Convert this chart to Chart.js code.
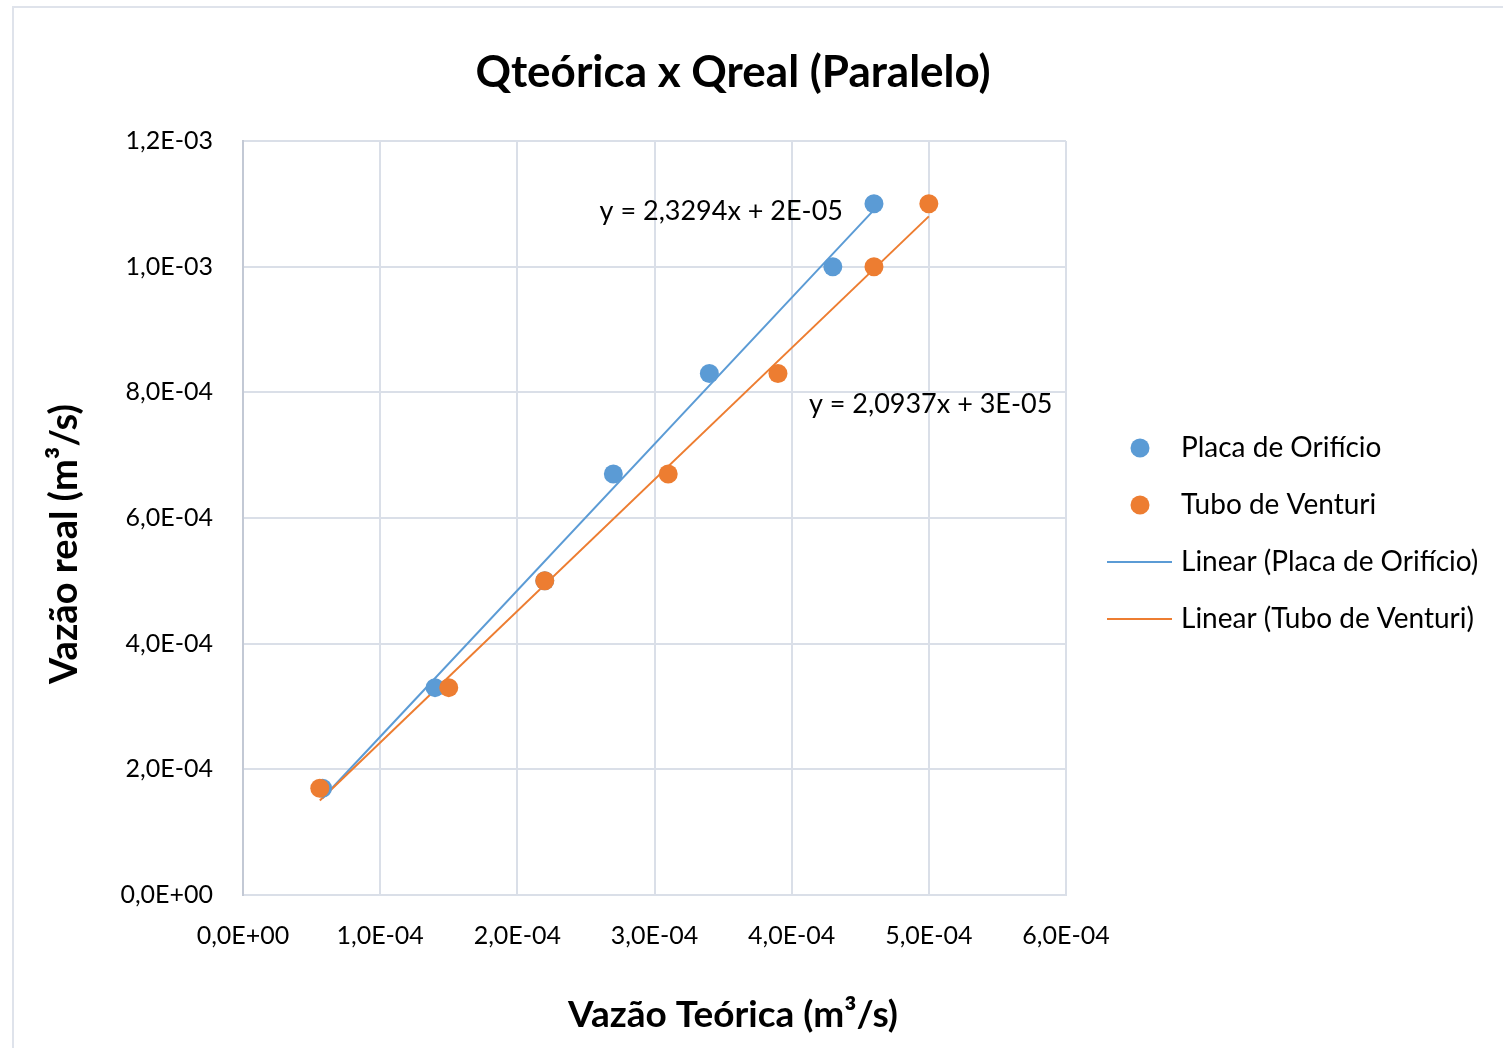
<!DOCTYPE html>
<html>
<head>
<meta charset="utf-8">
<title>Qteórica x Qreal (Paralelo)</title>
<script src="https://cdn.jsdelivr.net/npm/chart.js@4.4.1/dist/chart.umd.min.js"></script>
<style>
  html, body { margin: 0; padding: 0; background: #fff; overflow: hidden; }
  #wrap { position: relative; width: 1503px; height: 1048px; overflow: hidden; }
  #chart { position: absolute; left: -20px; top: 0; }
  #frame { position: absolute; left: 12px; top: 6px; width: 1520px; height: 1080px;
           border: 2px solid #dfe3eb; pointer-events: none; }
</style>
</head>
<body>
<div id="wrap">
  <canvas id="chart" width="1523" height="1048"></canvas>
  <div id="frame"></div>
</div>
<script>
// values (m³/s)
const placaX = [5.8e-5, 1.4e-4, 2.2e-4, 2.7e-4, 3.4e-4, 4.3e-4, 4.6e-4];
const placaY = [1.7e-4, 3.3e-4, 5.0e-4, 6.7e-4, 8.3e-4, 1.0e-3, 1.1e-3];
const venturiX = [5.6e-5, 1.5e-4, 2.2e-4, 3.1e-4, 3.9e-4, 4.6e-4, 5.0e-4];
const venturiY = [1.7e-4, 3.3e-4, 5.0e-4, 6.7e-4, 8.3e-4, 1.0e-3, 1.1e-3];
const seriesNames = ['Placa de Orifício', 'Tubo de Venturi'];
const equations = ['y = 2,3294x + 2E-05', 'y = 2,0937x + 3E-05'];

const BLUE = '#5b9bd5';
const ORANGE = '#ed7d31';
const GRID = '#dadfe8';
const FONT = 'Lato, "Open Sans", sans-serif';

function toPoints(xs, ys) {
  return xs.map((x, i) => ({ x, y: ys[i] }));
}

// least squares line over the x range of the series, like Excel's linear trendline
function linearFit(xs, ys) {
  const n = xs.length;
  const mx = xs.reduce((a, b) => a + b, 0) / n;
  const my = ys.reduce((a, b) => a + b, 0) / n;
  let sxy = 0, sxx = 0;
  xs.forEach((x, i) => {
    sxy += (x - mx) * (ys[i] - my);
    sxx += (x - mx) * (x - mx);
  });
  const m = sxy / sxx;
  const b = my - m * mx;
  const x0 = Math.min(...xs), x1 = Math.max(...xs);
  return [{ x: x0, y: m * x0 + b }, { x: x1, y: m * x1 + b }];
}

// 1.2e-3 -> "1,2E-03"
function fmtE(v) {
  const [mant, exp] = Number(v).toExponential(1).split('e');
  const e = parseInt(exp, 10);
  const sign = e < 0 ? '-' : '+';
  return mant.replace('.', ',') + 'E' + sign + String(Math.abs(e)).padStart(2, '0');
}

function legendIcon(kind, color) {
  const c = document.createElement('canvas');
  c.width = 84;
  c.height = 22;
  const g = c.getContext('2d');
  g.fillStyle = color;
  g.strokeStyle = color;
  if (kind === 'dot') {
    g.beginPath();
    g.arc(51, 11, 9.5, 0, Math.PI * 2);
    g.fill();
  } else {
    g.lineWidth = 2;
    g.beginPath();
    g.moveTo(18, 11);
    g.lineTo(83, 11);
    g.stroke();
  }
  return c;
}

const icons = [
  legendIcon('dot', BLUE),
  legendIcon('dot', ORANGE),
  legendIcon('line', BLUE),
  legendIcon('line', ORANGE)
];

// trendline equations and the rotated y title
const extraText = {
  id: 'extraText',
  afterDatasetsDraw(chart, args, opts) {
    const { ctx, chartArea, scales: { x, y } } = chart;
    ctx.save();
    ctx.fillStyle = '#000';
    ctx.textBaseline = 'middle';
    ctx.font = '27px ' + FONT;
    opts.labels.forEach(l => {
      ctx.textAlign = l.align;
      ctx.fillText(l.text, x.getPixelForValue(l.x), y.getPixelForValue(l.y));
    });
    ctx.translate(chartArea.left + opts.yTitle.dx, opts.yTitle.y);
    ctx.rotate(-Math.PI / 2);
    ctx.textAlign = 'center';
    ctx.font = 'bold 38px ' + FONT;
    ctx.fillText(opts.yTitle.text, 0, 0);
    ctx.restore();
  }
};

new Chart(document.getElementById('chart'), {
  type: 'scatter',
  data: {
    datasets: [
      {
        label: seriesNames[0],
        data: toPoints(placaX, placaY),
        backgroundColor: BLUE,
        borderColor: BLUE,
        pointRadius: 9.5,
        pointBorderWidth: 0,
        order: 2
      },
      {
        label: seriesNames[1],
        data: toPoints(venturiX, venturiY),
        backgroundColor: ORANGE,
        borderColor: ORANGE,
        pointRadius: 9.5,
        pointBorderWidth: 0,
        order: 1
      },
      {
        type: 'line',
        label: 'Linear (' + seriesNames[0] + ')',
        data: linearFit(placaX, placaY),
        borderColor: BLUE,
        borderWidth: 2,
        pointRadius: 0,
        order: 4
      },
      {
        type: 'line',
        label: 'Linear (' + seriesNames[1] + ')',
        data: linearFit(venturiX, venturiY),
        borderColor: ORANGE,
        borderWidth: 2,
        pointRadius: 0,
        order: 3
      }
    ]
  },
  options: {
    responsive: false,
    animation: false,
    events: [],
    layout: { padding: { left: 0, right: 17, top: 20, bottom: 1 } },
    scales: {
      x: {
        type: 'linear',
        min: 0,
        max: 6e-4,
        afterFit: s => { s.height = 80; },
        ticks: {
          stepSize: 1e-4,
          padding: 26,
          color: '#000',
          font: { family: FONT, size: 25 },
          callback: v => fmtE(v)
        },
        grid: { color: GRID, lineWidth: 2, drawTicks: false },
        border: { color: GRID, width: 2 }
      },
      y: {
        type: 'linear',
        min: 0,
        max: 1.2e-3,
        afterFit: s => { s.width = 263; },
        ticks: {
          stepSize: 2e-4,
          padding: 30,
          color: '#000',
          font: { family: FONT, size: 25 },
          callback: v => fmtE(v)
        },
        grid: { color: GRID, lineWidth: 2, drawTicks: false },
        border: { color: '#c3c9d5', width: 2 }
      }
    },
    plugins: {
      title: {
        display: true,
        text: 'Qteórica x Qreal (Paralelo)',
        color: '#000',
        font: { family: FONT, size: 44, weight: 'bold' },
        padding: { top: 26.6, bottom: 41.6 }
      },
      subtitle: {
        display: true,
        position: 'bottom',
        text: 'Vazão Teórica (m³/s)',
        color: '#000',
        font: { family: FONT, size: 37, weight: 'bold' },
        padding: { top: 17.8, bottom: 9.8 }
      },
      legend: {
        position: 'right',
        maxWidth: 420,
        labels: {
          usePointStyle: true,
          pointStyleWidth: 72,
          padding: 29,
          color: '#000',
          font: { family: FONT, size: 28 },
          generateLabels: chart => chart.data.datasets.map((ds, i) => ({
            text: ds.label,
            fillStyle: ds.borderColor,
            strokeStyle: ds.borderColor,
            lineWidth: 0,
            pointStyle: icons[i],
            hidden: false,
            datasetIndex: i
          }))
        }
      },
      tooltip: { enabled: false },
      extraText: {
        labels: [
          { text: equations[0], x: 4.374e-4, y: 1.0887e-3, align: 'right' },
          { text: equations[1], x: 4.126e-4, y: 7.815e-4, align: 'left' }
        ],
        yTitle: { text: 'Vazão real (m³/s)', dx: -178, y: 544 }
      }
    }
  },
  plugins: [extraText]
});
</script>
</body>
</html>
